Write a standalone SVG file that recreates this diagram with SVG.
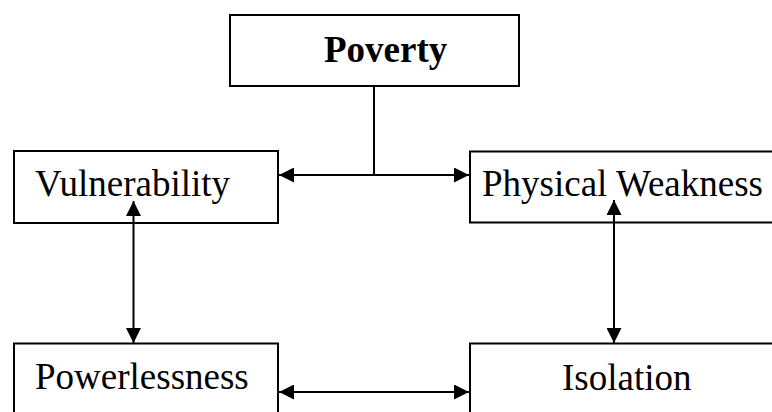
<svg xmlns="http://www.w3.org/2000/svg" width="772" height="412" viewBox="0 0 772 412">
<style>
.box{fill:#fff;stroke:#000;stroke-width:2}
.lbl{font-family:"Liberation Serif","Times New Roman",serif;font-size:37px;fill:#000}
.bold{font-weight:bold}
.con{stroke:#000;stroke-width:2;fill:none}
</style>
<defs>
<marker id="ah" markerUnits="userSpaceOnUse" markerWidth="15" markerHeight="15" refX="15" refY="7.5" orient="auto-start-reverse" viewBox="0 0 15 15">
<path d="M0,0 L15,7.5 L0,15 z" fill="#000"/>
</marker>
</defs>
<rect width="772" height="412" fill="#fff"/>
<g id="poverty">
<rect class="box" x="230" y="15" width="289" height="71"/>
<text class="lbl bold" x="324" y="62">Poverty</text>
</g>
<g id="vulnerability">
<rect class="box" x="14" y="151" width="264" height="72"/>
<text class="lbl" x="35" y="196">Vulnerability</text>
</g>
<g id="physical-weakness">
<rect class="box" x="470" y="151.5" width="312" height="71"/>
<text class="lbl" x="482" y="196">Physical Weakness</text>
</g>
<g id="powerlessness">
<rect class="box" x="14" y="343.5" width="264" height="90"/>
<text class="lbl" x="35" y="389">Powerlessness</text>
</g>
<g id="isolation">
<rect class="box" x="470" y="343.5" width="312" height="90"/>
<text class="lbl" x="562" y="390">Isolation</text>
</g>
<g id="connectors">
<line class="con" x1="374" y1="86" x2="374" y2="175"/>
<line class="con" x1="279" y1="175" x2="469" y2="175" marker-start="url(#ah)" marker-end="url(#ah)"/>
<line class="con" x1="133.5" y1="201" x2="133.5" y2="343" marker-start="url(#ah)" marker-end="url(#ah)"/>
<line class="con" x1="614" y1="200" x2="614" y2="343" marker-start="url(#ah)" marker-end="url(#ah)"/>
<line class="con" x1="279" y1="392" x2="469" y2="392" marker-start="url(#ah)" marker-end="url(#ah)"/>
</g>
</svg>
